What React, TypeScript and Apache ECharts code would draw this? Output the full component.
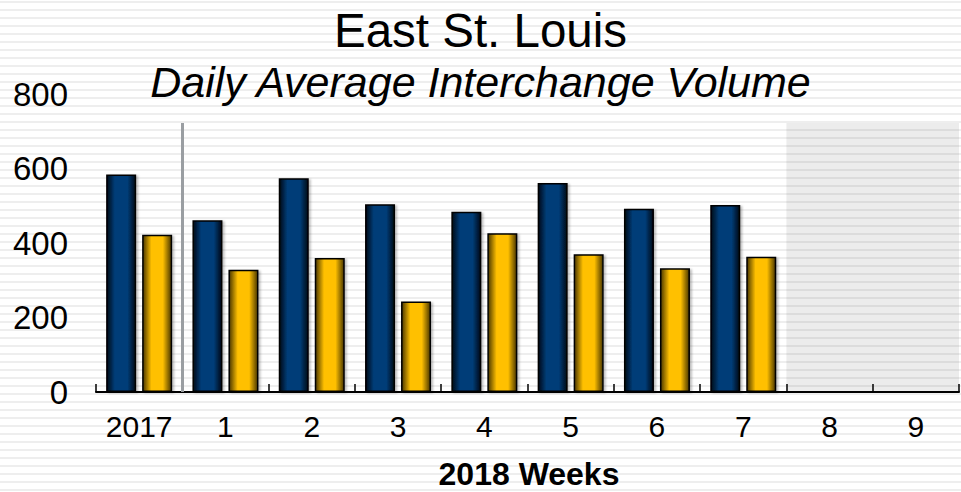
import React, { useEffect, useRef } from "react";
import * as echarts from "echarts";

const categories = ["2017", "1", "2", "3", "4", "5", "6", "7", "8", "9"];
const seriesA = [584, 461, 574, 504, 484, 561, 492, 502, null, null];
const seriesB = [422, 328, 360, 243, 426, 370, 332, 363, null, null];
const yTicks = { min: 0, max: 800, interval: 200 };
const shadedFrom = 8; // category index where the shaded (future) zone starts
const shadedTop = 722;
const separatorAt = 1; // boundary between 2017 and week 1
const titleText = "East St. Louis";
const subtitleText = "Daily Average Interchange Volume";
const xName = "2018 Weeks";

const FONT = "'Liberation Sans', Arial, sans-serif";

export default function App() {
  const ref = useRef<HTMLDivElement>(null);
  useEffect(() => {
    if (!ref.current) return;
    const chart = echarts.init(ref.current, null, { renderer: "svg" });
    const blueGrad = new echarts.graphic.LinearGradient(0, 0, 1, 0, [
      { offset: 0, color: "#000a16" },
      { offset: 0.28, color: "#003d78" },
      { offset: 0.72, color: "#003d78" },
      { offset: 1, color: "#000a16" },
    ]);
    const yellowGrad = new echarts.graphic.LinearGradient(0, 0, 1, 0, [
      { offset: 0, color: "#4a3700" },
      { offset: 0.3, color: "#ffc000" },
      { offset: 0.7, color: "#ffc000" },
      { offset: 1, color: "#4a3700" },
    ]);
    const barItem = (fill: any) => ({
      color: fill,
      borderColor: "#000",
      borderWidth: 1.5,
      shadowColor: "rgba(0,0,0,0.25)",
      shadowBlur: 2,
      shadowOffsetX: 2,
      shadowOffsetY: 1,
    });
    chart.setOption({
      animation: false,
      backgroundColor: "transparent",
      textStyle: { fontFamily: FONT },
      title: [
        {
          text: titleText,
          left: "center",
          top: 1,
          textStyle: { fontFamily: FONT, fontSize: 47.5, fontWeight: "normal", color: "#000" },
        },
        {
          text: subtitleText,
          left: "center",
          top: 55,
          textStyle: { fontFamily: FONT, fontSize: 43, fontStyle: "italic", fontWeight: "normal", color: "#000" },
        },
      ],
      graphic: [
        {
          type: "text",
          x: 529,
          y: 474,
          silent: true,
          style: {
            text: xName,
            fontFamily: FONT,
            fontSize: 32,
            fontWeight: "bold",
            fill: "#000",
            align: "center",
            verticalAlign: "middle",
          },
        },
      ],
      grid: { left: 96, right: 2, top: 94, bottom: 100, containLabel: false },
      xAxis: [
        {
          type: "category",
          data: categories,
          boundaryGap: true,
          axisLine: { show: true, lineStyle: { color: "#000", width: 2 } },
          axisTick: { show: true, interval: 0, inside: true, length: 8, lineStyle: { color: "#000", width: 1.5 } },
          axisLabel: { interval: 0, fontFamily: FONT, fontSize: 30, color: "#000", margin: 19 },
          splitLine: { show: false },
        },
        {
          type: "value",
          min: 0,
          max: categories.length,
          show: false,
          position: "bottom",
        },
      ],
      yAxis: {
        type: "value",
        min: yTicks.min,
        max: yTicks.max,
        interval: yTicks.interval,
        axisLine: { show: false },
        axisTick: { show: false },
        splitLine: { show: false },
        axisLabel: { fontFamily: FONT, fontSize: 33, color: "#000", margin: 28, padding: [3, 0, 0, 0] },
      },
      series: [
        {
          type: "line",
          xAxisIndex: 1,
          data: [[0, 0]],
          symbol: "none",
          lineStyle: { opacity: 0 },
          silent: true,
          z: 1,
          markArea: {
            silent: true,
            itemStyle: { color: "rgba(0,0,0,0.075)" },
            data: [[{ coord: [shadedFrom, 0] }, { coord: [categories.length, shadedTop] }]],
          },
          markLine: {
            silent: true,
            symbol: "none",
            label: { show: false },
            lineStyle: { color: "#9a9ea2", width: 3, type: "solid" },
            data: [[{ coord: [separatorAt, 0] }, { coord: [separatorAt, shadedTop] }]],
          },
        },
        {
          type: "bar",
          data: seriesA,
          barWidth: 30,
          barGap: "20%",
          itemStyle: barItem(blueGrad),
          z: 3,
        },
        {
          type: "bar",
          data: seriesB,
          barWidth: 30,
          barGap: "20%",
          itemStyle: barItem(yellowGrad),
          z: 3,
        },
      ],
    });
    return () => chart.dispose();
  }, []);
  return (
    <div
      ref={ref}
      style={{
        position: "fixed",
        left: 0,
        top: 0,
        width: 961,
        height: 492,
        background:
          "repeating-linear-gradient(to bottom, #ffffff 0px, #ffffff 1px, #eeeeee 1px, #eeeeee 3px, #ffffff 3px, #ffffff 8px)",
      }}
    />
  );
}
